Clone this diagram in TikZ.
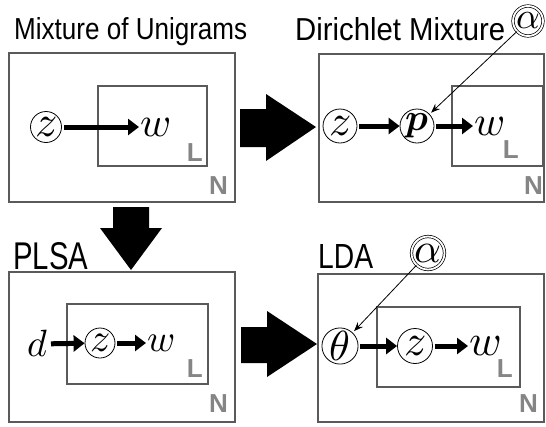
\documentclass[tikz,border=0pt]{standalone}
\usepackage{graphicx}
\usepackage{fontspec}
\usepackage{unicode-math}
\newfontfamily\sansf{Liberation Sans}
\usetikzlibrary{arrows.meta}
\definecolor{boxgray}{HTML}{5A5A5A}
\definecolor{lblgray}{HTML}{858585}
\tikzset{
  plate/.style={draw=boxgray, line width=1.2pt},
  var/.style={circle, draw, line width=0.8pt, inner sep=0pt, minimum size=#1},
  hyper/.style={circle, draw, double, double distance=1.8pt, line width=0.7pt, inner sep=0pt, minimum size=#1},
  obs/.style={inner sep=1pt},
  bigarr/.style={line width=5pt, -{Triangle[length=11pt,width=16pt]}, shorten <=2pt},
  thinarr/.style={line width=0.8pt, -{Stealth[length=9pt,width=7pt]}},
  lbl/.style={text=lblgray, font=\sansf\bfseries\fontsize{26}{26}\selectfont, inner sep=0pt, anchor=south east},
  ttl/.style={anchor=base west, inner sep=0pt},
  fs/.style={font=\fontsize{#1}{#1}\selectfont}
}
\begin{document}
\begin{tikzpicture}[x=1pt,y=-1pt]
\useasboundingbox (0,0) rectangle (546,426);

% titles
\node[ttl] (t1) at (14,39) {\resizebox{233pt}{22pt}{\sansf Mixture of Unigrams}};
\node[ttl] (t2) at (295,40) {\resizebox{210pt}{23pt}{\sansf Dirichlet Mixture}};
\node[ttl] (t3) at (13,269) {\resizebox{75pt}{27pt}{\sansf PLSA}};
\node[ttl] (t4) at (318,268) {\resizebox{55pt}{24pt}{\sansf LDA}};

% block arrows
\fill (240,109) -- (266,109) -- (266,94) -- (316,127) -- (266,161) -- (266,147) -- (240,147) -- cycle;
\fill (241,327) -- (267,327) -- (267,311) -- (317,344) -- (267,377) -- (267,363) -- (241,363) -- cycle;
\fill (113,207) -- (149,207) -- (149,228) -- (162,228) -- (131,270) -- (100,228) -- (113,228) -- cycle;

% ---- Mixture of Unigrams
\draw[plate] (9,53) rectangle (235,202);
\draw[plate] (98,86) rectangle (207,166);
\node[var=31, fs=44] (z1) at (46,127) {$z$};
\node[obs, fs=42, anchor=west] (w1) at (139,127) {$w$};
\draw[bigarr] (z1) -- (w1);
\node[lbl] (L1) at (203,162) {L};
\node[lbl] (N1) at (228,195) {N};

% ---- Dirichlet Mixture
\draw[plate] (319,54) rectangle (544,202);
\draw[plate] (452,86) rectangle (543,166);
\node[var=34, fs=44] (z2) at (340,126) {$z$};
\node[var=34, fs=38] (p2) at (417,126) {$\symbfit{p}$};
\node[obs, fs=42, anchor=west] (w2) at (473,126) {$w$};
\node[hyper=30, fs=37] (a2) at (528,21) {$\alpha$};
\draw[bigarr] (z2) -- (p2);
\draw[bigarr] (p2) -- (w2);
\draw[thinarr, shorten >=2pt] (a2) -- (p2);
\node[lbl] (L2) at (519,159) {L};
\node[lbl] (N2) at (543,195) {N};

% ---- PLSA
\draw[plate] (9,272) rectangle (235,422);
\draw[plate] (67,304) rectangle (208,384);
\node[obs, fs=38, anchor=east] (d3) at (49,344) {$d$};
\node[var=30, fs=40] (z3) at (100,343) {$z$};
\node[obs, fs=38, anchor=west] (w3) at (146,343) {$w$};
\draw[bigarr] (d3) -- (z3);
\draw[bigarr] (z3) -- (w3);
\node[lbl] (L3) at (203,378) {L};
\node[lbl] (N3) at (228,413) {N};

% ---- LDA
\draw[plate] (318,274) rectangle (544,422);
\draw[plate] (377,307) rectangle (520,387);
\node[var=35, fs=42] (th4) at (340,346) {$\theta$};
\node[var=35, fs=44] (z4) at (415,346) {$z$};
\node[obs, fs=44, anchor=west] (w4) at (468,346) {$w$};
\node[hyper=33, fs=42] (a4) at (428,253) {$\alpha$};
\draw[bigarr] (th4) -- (z4);
\draw[bigarr] (z4) -- (w4);
\draw[thinarr, shorten >=2pt] (a4) -- (th4);
\node[lbl] (L4) at (513,378) {L};
\node[lbl] (N4) at (538,413) {N};
\end{tikzpicture}
\end{document}
